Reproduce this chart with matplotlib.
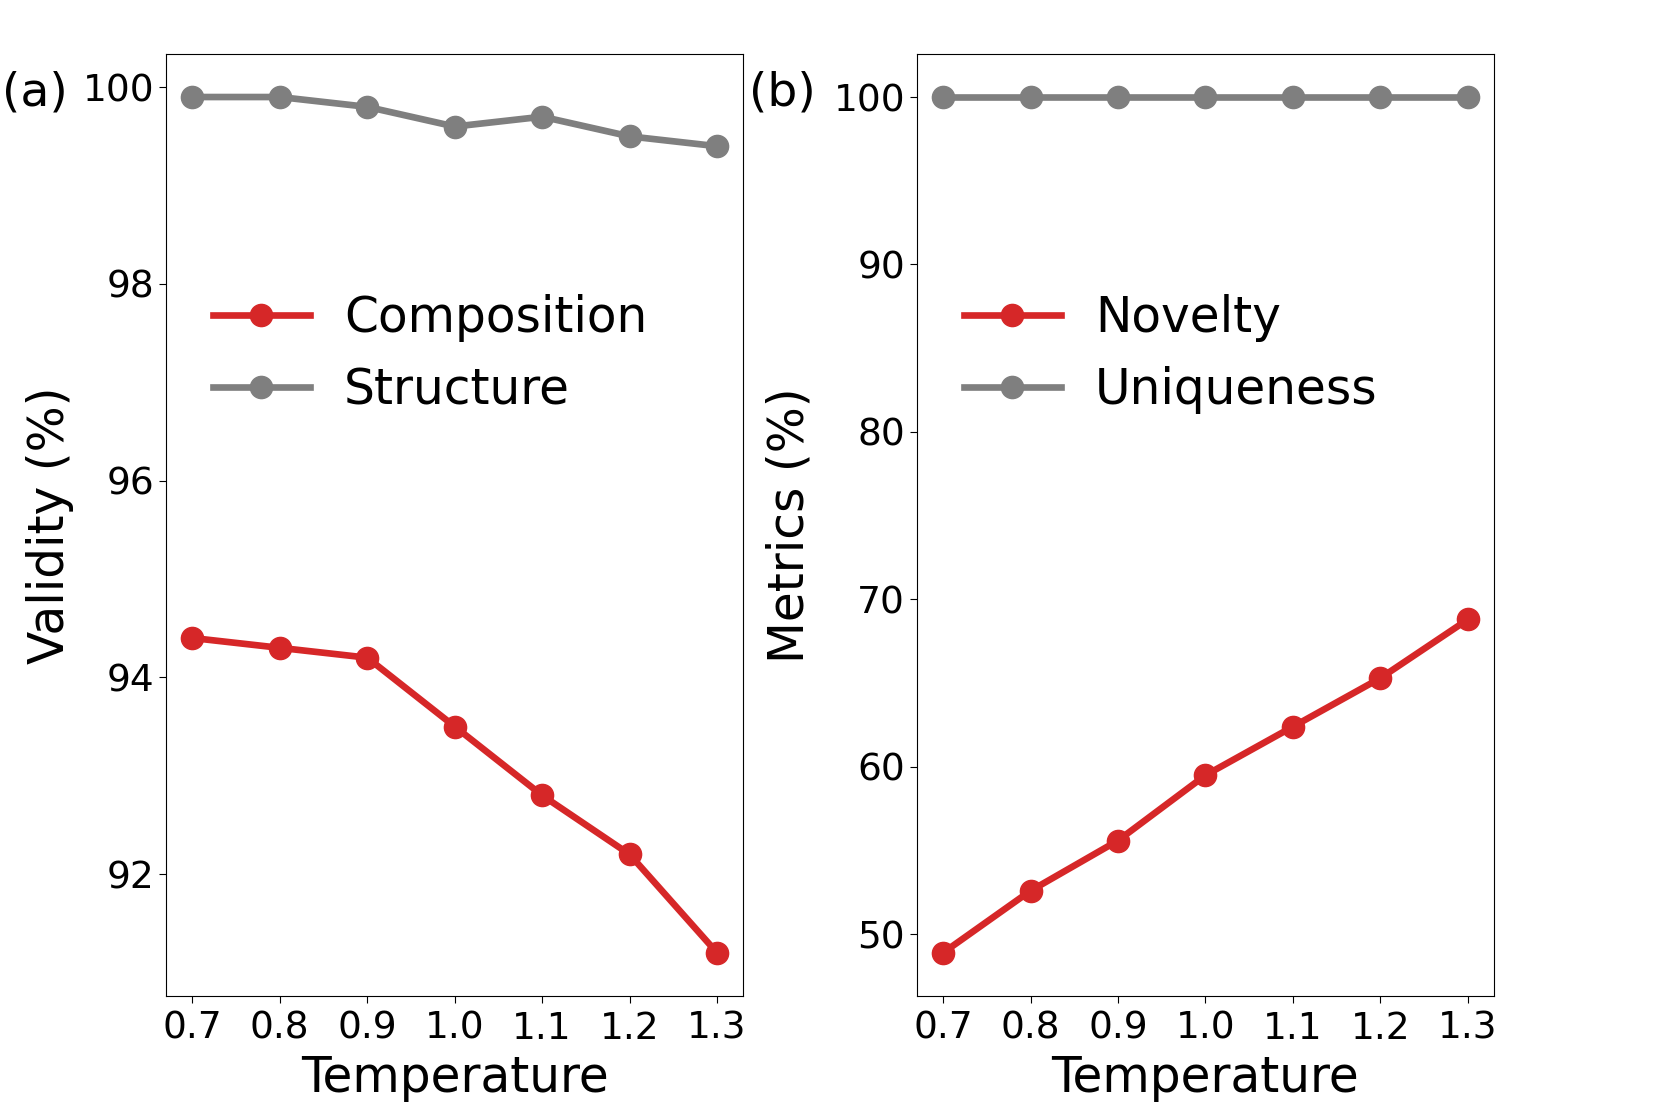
import matplotlib
matplotlib.use('Agg')
import matplotlib.pyplot as plt

temperature = [0.7, 0.8, 0.9, 1.0, 1.1, 1.2, 1.3]
temp_ticks = ['0.7', '0.8', '0.9', '1.0', '1.1', '1.2', '1.3']

# validity (%)
composition = [94.4, 94.3, 94.2, 93.5, 92.8, 92.2, 91.2]
structure = [99.9, 99.9, 99.8, 99.6, 99.7, 99.5, 99.4]

# metrics (%)
novelty = [48.9, 52.6, 55.6, 59.5, 62.4, 65.3, 68.8]
uniqueness = [100.0, 100.0, 100.0, 100.0, 100.0, 100.0, 100.0]

red = '#d62728'
gray = '#7f7f7f'
lw = 4.8
ms = 16

fig = plt.figure(figsize=(16.61, 11.07), dpi=100)
ax1 = fig.add_axes([0.1, 0.1007, 0.3475, 0.8503])
ax2 = fig.add_axes([0.552, 0.1007, 0.3475, 0.8503])

ax1.plot(temperature, composition, color=red, marker='o', lw=lw, ms=ms, label='Composition')
ax1.plot(temperature, structure, color=gray, marker='o', lw=lw, ms=ms, label='Structure')
ax1.set_ylabel('Validity (%)', fontsize=35, labelpad=6)
ax1.set_yticks([92, 94, 96, 98, 100])

ax2.plot(temperature, novelty, color=red, marker='o', lw=lw, ms=ms, label='Novelty')
ax2.plot(temperature, uniqueness, color=gray, marker='o', lw=lw, ms=ms, label='Uniqueness')
ax2.set_ylabel('Metrics (%)', fontsize=35, labelpad=14)
ax2.set_yticks([50, 60, 70, 80, 90, 100])

for ax in (ax1, ax2):
    ax.set_xticks(temperature)
    ax.set_xticklabels(temp_ticks)
    ax.set_xlabel('Temperature', fontsize=35, labelpad=5)
    ax.tick_params(labelsize=27, length=5)
    ax.tick_params(axis='x', pad=6)
    ax.legend(fontsize=35, frameon=False, loc='upper left',
              bbox_to_anchor=(0.005, 0.792), handlelength=2.0, handletextpad=0.7)

fig.text(0.001, 0.916, '(a)', fontsize=34, ha='left', va='center')
fig.text(0.451, 0.916, '(b)', fontsize=34, ha='left', va='center')

fig.savefig('out.png', dpi=100)
